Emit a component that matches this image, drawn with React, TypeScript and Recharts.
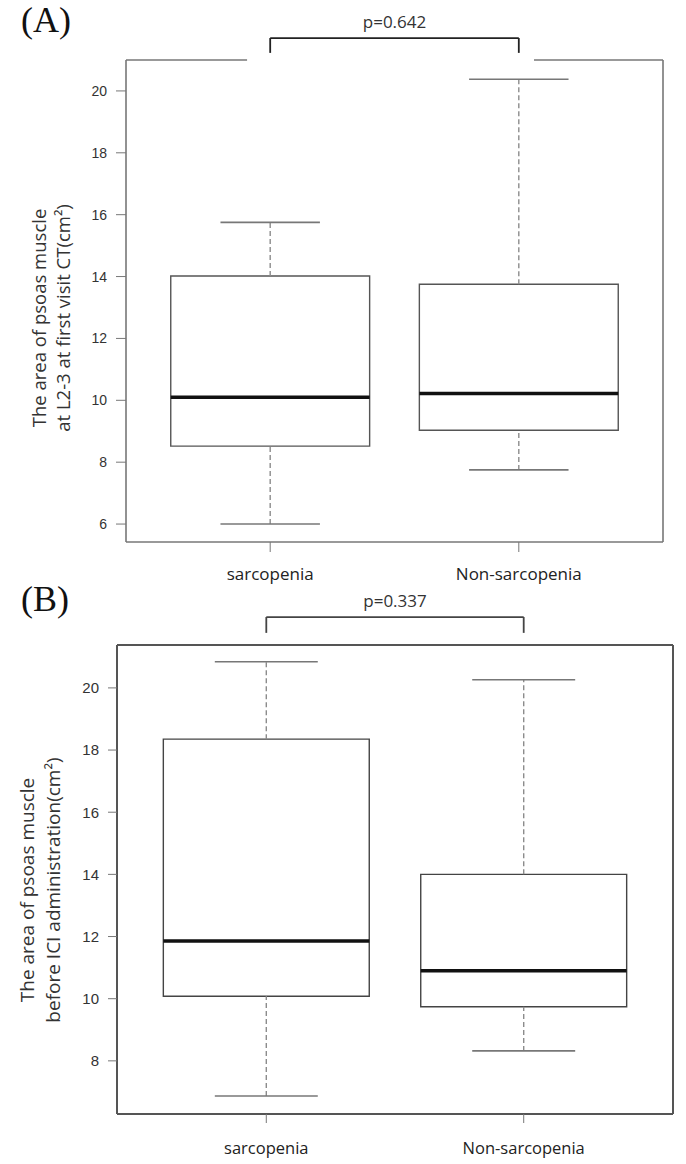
import { ComposedChart, ReferenceArea, ReferenceLine, XAxis, YAxis } from 'recharts';

const groups = ['sarcopenia', 'Non-sarcopenia'];
const groupPos = [1, 2];

// (A) psoas area at L2-3, first visit CT
const firstCtMin = [6.0, 7.75];
const firstCtQ1 = [8.52, 9.03];
const firstCtMedian = [10.1, 10.22];
const firstCtQ3 = [14.02, 13.75];
const firstCtMax = [15.75, 20.38];
const firstCtTicks = [6, 8, 10, 12, 14, 16, 18, 20];

// (B) psoas area before ICI administration
const beforeIciMin = [6.87, 8.32];
const beforeIciQ1 = [10.08, 9.74];
const beforeIciMedian = [11.86, 10.9];
const beforeIciQ3 = [18.35, 14.0];
const beforeIciMax = [20.84, 20.26];
const beforeIciTicks = [8, 10, 12, 14, 16, 18, 20];

const pValues = ['p=0.642', 'p=0.337'];

// R-style padding around 0.5..2.5
const xDomain: [number, number] = [0.42, 2.58];
const yDomainA: [number, number] = [5.42, 21.0];
const yDomainB: [number, number] = [6.29, 21.38];
// bracket heights (data units above the frame)
const bracketA = [21.23, 21.71];
const bracketB = [21.77, 22.28];

const sans = '"Open Sans", "Noto Sans", sans-serif';
const axisFont = '"Liberation Sans", Arial, sans-serif';
const serif = '"Liberation Serif", "DejaVu Serif", serif';

const AxisTitle = (props: any) => {
  const { lines, xs, cy, fontSize } = props;
  return (
    <g>
      {lines.map((t: string, i: number) => (
        <text
          key={i}
          x={xs[i]}
          y={cy}
          transform={`rotate(-90 ${xs[i]} ${cy})`}
          textAnchor="middle"
          dominantBaseline="central"
          fontSize={fontSize}
          fontFamily={sans}
          fill="#333"
        >
          {t}
        </text>
      ))}
    </g>
  );
};

const boxMarks = (
  id: string,
  mins: number[],
  q1s: number[],
  meds: number[],
  q3s: number[],
  maxs: number[],
  boxStroke: string,
) =>
  groupPos.flatMap((c, i) => [
    <ReferenceLine key={`${id}-wu${i}`} segment={[{ x: c, y: q3s[i] }, { x: c, y: maxs[i] }]} stroke="#8c8c8c" strokeWidth={1.4} strokeDasharray="5 3" ifOverflow="visible" />,
    <ReferenceLine key={`${id}-wl${i}`} segment={[{ x: c, y: mins[i] }, { x: c, y: q1s[i] }]} stroke="#8c8c8c" strokeWidth={1.4} strokeDasharray="5 3" ifOverflow="visible" />,
    <ReferenceLine key={`${id}-cu${i}`} segment={[{ x: c - 0.2, y: maxs[i] }, { x: c + 0.2, y: maxs[i] }]} stroke="#777" strokeWidth={1.6} ifOverflow="visible" />,
    <ReferenceLine key={`${id}-cl${i}`} segment={[{ x: c - 0.2, y: mins[i] }, { x: c + 0.2, y: mins[i] }]} stroke="#777" strokeWidth={1.6} ifOverflow="visible" />,
    <ReferenceArea key={`${id}-b${i}`} x1={c - 0.4} x2={c + 0.4} y1={q1s[i]} y2={q3s[i]} fill="#fff" fillOpacity={1} stroke={boxStroke} strokeWidth={1.4} ifOverflow="visible" />,
    <ReferenceLine key={`${id}-m${i}`} segment={[{ x: c - 0.4, y: meds[i] }, { x: c + 0.4, y: meds[i] }]} stroke="#111" strokeWidth={3.5} ifOverflow="visible" />,
  ]);

const bracket = (id: string, levels: number[], p: string, stroke: string) => [
  <ReferenceLine key={`${id}-bl`} segment={[{ x: 1, y: levels[0] }, { x: 1, y: levels[1] }]} stroke={stroke} strokeWidth={1.8} ifOverflow="visible" />,
  <ReferenceLine key={`${id}-br`} segment={[{ x: 2, y: levels[0] }, { x: 2, y: levels[1] }]} stroke={stroke} strokeWidth={1.8} ifOverflow="visible" />,
  <ReferenceLine
    key={`${id}-bt`}
    segment={[{ x: 1, y: levels[1] }, { x: 2, y: levels[1] }]}
    stroke={stroke}
    strokeWidth={1.8}
    ifOverflow="visible"
    label={{ value: p, position: 'top', offset: 10, fill: '#333', fontSize: 17, fontFamily: sans }}
  />,
];

const tickName = (v: number) => groups[groupPos.indexOf(v)] ?? '';

export default function App() {
  return (
    <div style={{ position: 'absolute', left: 0, top: 0, width: 686, height: 1164, background: '#fff' }}>
      <div style={{ position: 'absolute', left: 21, top: 2, fontFamily: serif, fontSize: 36, lineHeight: 1, color: '#111' }}>(A)</div>
      <div style={{ position: 'absolute', left: 21, top: 581, fontFamily: serif, fontSize: 36, lineHeight: 1, color: '#111' }}>(B)</div>

      <div style={{ position: 'absolute', left: 0, top: 0 }}>
        <ComposedChart width={686} height={600} data={[]} margin={{ top: 60, right: 23, bottom: 0, left: 0 }}>
          <XAxis
            type="number"
            dataKey="x"
            domain={xDomain}
            allowDataOverflow
            ticks={groupPos}
            tickFormatter={tickName}
            height={58}
            tickSize={10}
            tickMargin={16}
            stroke="#777"
            axisLine={{ stroke: '#777', strokeWidth: 1.6 }}
            tick={{ fill: '#222', fontSize: 17, fontFamily: sans }}
          />
          <YAxis
            type="number"
            domain={yDomainA}
            allowDataOverflow
            ticks={firstCtTicks}
            width={126}
            tickSize={10}
            tickMargin={9}
            stroke="#777"
            axisLine={{ stroke: '#777', strokeWidth: 1.6 }}
            tick={{ fill: '#333', fontSize: 14, fontFamily: axisFont }}
            label={<AxisTitle lines={['The area of psoas muscle', 'at L2-3 at first visit CT(cm²)']} xs={[38, 62]} cy={318} fontSize={18.5} />}
          />
          <ReferenceLine segment={[{ x: xDomain[1], y: yDomainA[0] }, { x: xDomain[1], y: yDomainA[1] }]} stroke="#777" strokeWidth={1.6} ifOverflow="visible" />
          <ReferenceLine segment={[{ x: xDomain[0], y: yDomainA[1] }, { x: 0.907, y: yDomainA[1] }]} stroke="#777" strokeWidth={1.6} ifOverflow="visible" />
          <ReferenceLine segment={[{ x: 2.061, y: yDomainA[1] }, { x: xDomain[1], y: yDomainA[1] }]} stroke="#777" strokeWidth={1.6} ifOverflow="visible" />
          {boxMarks('a', firstCtMin, firstCtQ1, firstCtMedian, firstCtQ3, firstCtMax, '#555')}
          {bracket('a', bracketA, pValues[0], '#222')}
        </ComposedChart>
      </div>

      <div style={{ position: 'absolute', left: 0, top: 590 }}>
        <ComposedChart width={686} height={574} data={[]} margin={{ top: 55, right: 13, bottom: 0, left: 0 }}>
          <XAxis
            type="number"
            dataKey="x"
            domain={xDomain}
            allowDataOverflow
            ticks={groupPos}
            tickFormatter={tickName}
            height={50}
            tickSize={9}
            tickMargin={19}
            stroke="#777"
            axisLine={{ stroke: '#555', strokeWidth: 2 }}
            tick={{ fill: '#222', fontSize: 16.5, fontFamily: sans }}
          />
          <YAxis
            type="number"
            domain={yDomainB}
            allowDataOverflow
            ticks={beforeIciTicks}
            width={117}
            tickSize={9}
            tickMargin={9}
            stroke="#777"
            axisLine={{ stroke: '#555', strokeWidth: 2 }}
            tick={{ fill: '#333', fontSize: 15, fontFamily: axisFont }}
            label={<AxisTitle lines={['The area of psoas muscle', 'before ICI administration(cm²)']} xs={[27, 53]} cy={300} fontSize={19} />}
          />
          <ReferenceLine segment={[{ x: xDomain[1], y: yDomainB[0] }, { x: xDomain[1], y: yDomainB[1] }]} stroke="#555" strokeWidth={2} ifOverflow="visible" />
          <ReferenceLine segment={[{ x: xDomain[0], y: yDomainB[1] }, { x: xDomain[1], y: yDomainB[1] }]} stroke="#555" strokeWidth={2} ifOverflow="visible" />
          {boxMarks('b', beforeIciMin, beforeIciQ1, beforeIciMedian, beforeIciQ3, beforeIciMax, '#444')}
          {bracket('b', bracketB, pValues[1], '#444')}
        </ComposedChart>
      </div>
    </div>
  );
}
